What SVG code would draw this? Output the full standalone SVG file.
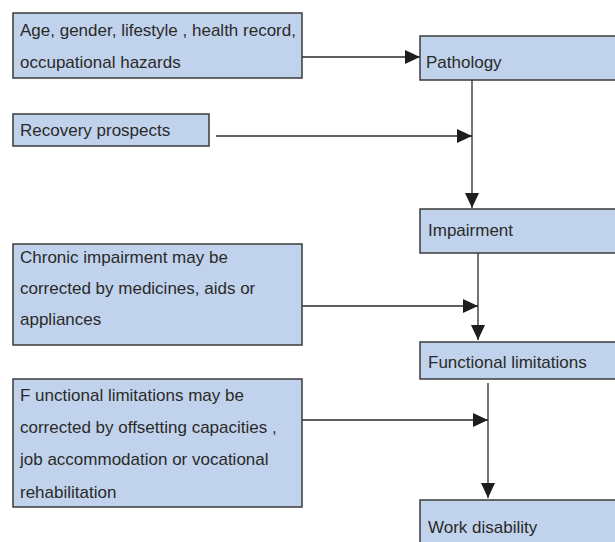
<svg xmlns="http://www.w3.org/2000/svg" width="615" height="542" viewBox="0 0 615 542">
<style>
.box{fill:#c1d3ec;stroke:#3a3a3a;stroke-width:1.5}
.t{font-family:"Liberation Sans",Arial,sans-serif;font-size:17px;fill:#2a2a2a}
.c{stroke:#2a2a2a;stroke-width:1.3;fill:none}
</style>
<defs>
<marker id="ah" markerWidth="15" markerHeight="14" refX="15" refY="7" orient="auto" markerUnits="userSpaceOnUse">
<path d="M0,0 L15,7 L0,14 Z" fill="#1e1e1e"/>
</marker>
</defs>
<rect width="615" height="542" fill="#ffffff"/>
<g id="connectors">
<line class="c" x1="302" y1="57" x2="420" y2="57" marker-end="url(#ah)"/>
<line class="c" x1="472" y1="80" x2="472" y2="208" marker-end="url(#ah)"/>
<line class="c" x1="216" y1="136" x2="472" y2="136" marker-end="url(#ah)"/>
<line class="c" x1="478" y1="253" x2="478" y2="340" marker-end="url(#ah)"/>
<line class="c" x1="302" y1="306" x2="478" y2="306" marker-end="url(#ah)"/>
<line class="c" x1="488" y1="383" x2="488" y2="498" marker-end="url(#ah)"/>
<line class="c" x1="302" y1="420" x2="488" y2="420" marker-end="url(#ah)"/>
</g>
<g id="n1">
<rect class="box" x="13" y="13" width="289" height="65"/>
<text class="t" x="20" y="36">Age, gender, lifestyle , health record,</text>
<text class="t" x="20" y="68">occupational hazards</text>
</g>
<g id="n2">
<rect class="box" x="420" y="36" width="200" height="44"/>
<text class="t" x="426" y="68">Pathology</text>
</g>
<g id="n3">
<rect class="box" x="13" y="114" width="196" height="32"/>
<text class="t" x="20" y="136">Recovery  prospects</text>
</g>
<g id="n4">
<rect class="box" x="420" y="209" width="200" height="44"/>
<text class="t" x="428" y="236">Impairment</text>
</g>
<g id="n5">
<rect class="box" x="13" y="244" width="289" height="101"/>
<text class="t" x="20" y="263">Chronic impairment may be</text>
<text class="t" x="20" y="294">corrected by medicines, aids or</text>
<text class="t" x="20" y="325">appliances</text>
</g>
<g id="n6">
<rect class="box" x="420" y="342" width="200" height="37"/>
<text class="t" x="428" y="368">Functional  limitations</text>
</g>
<g id="n7">
<rect class="box" x="13" y="379" width="289" height="128"/>
<text class="t" x="20" y="401">F unctional limitations may be</text>
<text class="t" x="20" y="433">corrected  by offsetting capacities ,</text>
<text class="t" x="20" y="465">job accommodation or vocational</text>
<text class="t" x="20" y="498">rehabilitation</text>
</g>
<g id="n8">
<rect class="box" x="420" y="500" width="200" height="50"/>
<text class="t" x="428" y="533">Work disability</text>
</g>
</svg>
